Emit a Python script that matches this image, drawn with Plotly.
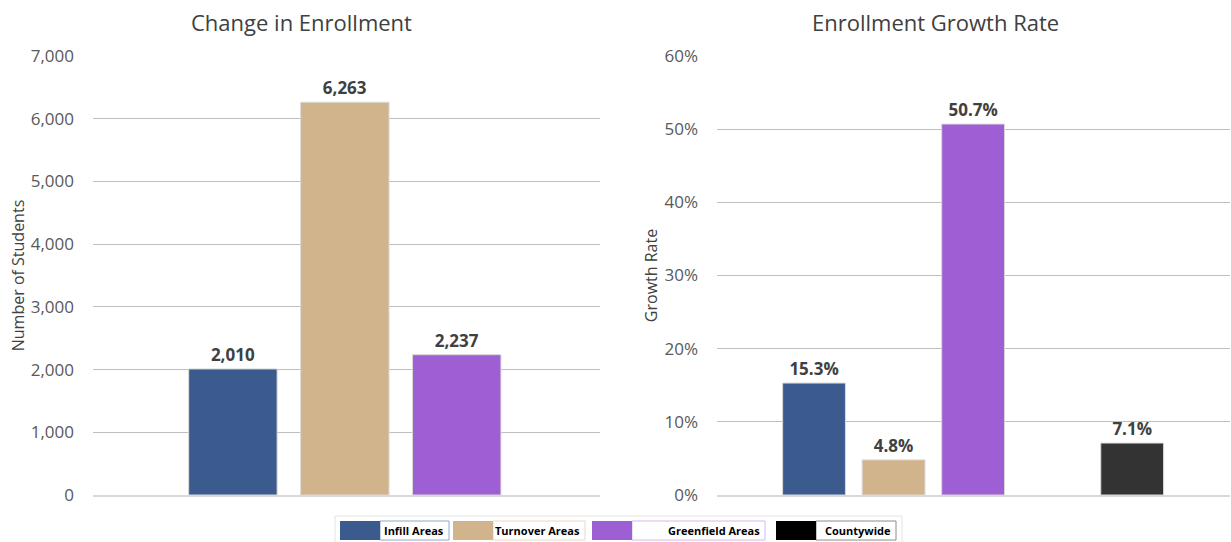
import plotly.graph_objects as go
from plotly.subplots import make_subplots

# ---- data ----
enroll_categories = ["Infill Areas", "Turnover Areas", "Greenfield Areas"]
enroll_change = [2010, 6263, 2237]
rate_categories = ["Infill Areas", "Turnover Areas", "Greenfield Areas", " ", "Countywide"]
rate_series = ["Infill Areas", "Turnover Areas", "Greenfield Areas", "Countywide"]
growth_rate = [0.153, 0.048, 0.507, 0.071]
legend_labels = ["Infill Areas", "Turnover Areas", "Greenfield Areas", "Countywide"]

left_ticks = [0, 1000, 2000, 3000, 4000, 5000, 6000, 7000]
right_ticks = [0, 0.1, 0.2, 0.3, 0.4, 0.5, 0.6]

# ---- styles ----
bar_colors = {"Infill Areas": "#3B5A8E", "Turnover Areas": "#D2B48C",
              "Greenfield Areas": "#9E5FD4", "Countywide": "#333333"}
legend_colors = {"Infill Areas": "#3B5A8E", "Turnover Areas": "#D2B48C",
                 "Greenfield Areas": "#9E5FD4", "Countywide": "#000000"}
legend_borders = {"Infill Areas": "#8FA6D0", "Turnover Areas": "#E8D9C3",
                  "Greenfield Areas": "#D5B8F0", "Countywide": "#8C8C8C"}
FONT = "Open Sans"
W, H = 1231, 542
ML, MR, MT, MB = 93, 1, 56, 47
PW, PH = W - ML - MR, H - MT - MB


def px(x):
    return (x - ML) / PW


def py(y):
    return (H - MB - y) / PH


fig = make_subplots(rows=1, cols=2)

fig.add_trace(go.Bar(
    x=enroll_categories, y=enroll_change,
    marker=dict(color=[bar_colors[c] for c in enroll_categories],
                line=dict(color="#D9D9D9", width=1)),
    text=[f"{v:,}" for v in enroll_change], textposition="outside",
    textfont=dict(family=FONT, size=17, color="#404040", weight="bold"),
    cliponaxis=False, showlegend=False, hoverinfo="skip"), row=1, col=1)

fig.add_trace(go.Bar(
    x=rate_series, y=growth_rate,
    marker=dict(color=[bar_colors[c] for c in rate_series],
                line=dict(color="#D9D9D9", width=1)),
    text=[f"{v*100:.1f}%" for v in growth_rate], textposition="outside",
    textfont=dict(family=FONT, size=17, color="#404040", weight="bold"),
    cliponaxis=False, showlegend=False, hoverinfo="skip"), row=1, col=2)

axis_common = dict(showline=True, linecolor="#D9D9D9", linewidth=2,
                   showticklabels=False, ticks="", showgrid=False,
                   type="category", fixedrange=True)
fig.update_xaxes(domain=[0, px(600)], categoryorder="array",
                 categoryarray=enroll_categories, range=[-1.25, 3.28],
                 **axis_common, row=1, col=1)
fig.update_xaxes(domain=[px(717), 1.0], categoryorder="array",
                 categoryarray=rate_categories, range=[-1.22, 5.23],
                 **axis_common, row=1, col=2)

yaxis_common = dict(showgrid=True, gridcolor="#BFBFBF", gridwidth=1,
                    zeroline=False, showline=False, ticks="",
                    tickfont=dict(family=FONT, size=17, color="#595959"),
                    ticklabelstandoff=18, fixedrange=True)
fig.update_yaxes(range=[0, 7000], tickvals=left_ticks,
                 ticktext=[f"{v:,}" for v in left_ticks],
                 title=dict(text="Number of Students", standoff=2,
                            font=dict(family=FONT, size=16, color="#404040")),
                 **yaxis_common, row=1, col=1)
fig.update_yaxes(range=[0, 0.6], tickvals=right_ticks,
                 ticktext=[f"{round(v*100)}%" for v in right_ticks],
                 title=dict(text="Growth Rate", standoff=2,
                            font=dict(family=FONT, size=16, color="#404040")),
                 **yaxis_common, row=1, col=2)

annotations = [
    dict(text="Change in Enrollment", x=px(301), y=py(22), xref="paper", yref="paper",
         showarrow=False, xanchor="center", yanchor="middle",
         font=dict(family=FONT, size=22, color="#404040")),
    dict(text="Enrollment Growth Rate", x=px(935), y=py(22), xref="paper", yref="paper",
         showarrow=False, xanchor="center", yanchor="middle",
         font=dict(family=FONT, size=22, color="#404040")),
]

# custom Excel-style legend (positions in pixels)
legend_items = [(340, 380, 449), (453, 493, 585), (592, 632, 765), (776, 816, 896)]
shapes = [dict(type="rect", xref="paper", yref="paper",
               x0=px(335), x1=px(902), y0=py(545), y1=py(516),
               line=dict(color="#E3E3E3", width=1), fillcolor="white", layer="below")]
ytop, ybot = 521, 540
for lab, (s0, s1, b1) in zip(legend_labels, legend_items):
    shapes.append(dict(type="rect", xref="paper", yref="paper",
                       x0=px(s1), x1=px(b1), y0=py(ybot), y1=py(ytop),
                       line=dict(color=legend_borders[lab], width=1), fillcolor="white"))
    shapes.append(dict(type="rect", xref="paper", yref="paper",
                       x0=px(s0), x1=px(s1), y0=py(ybot), y1=py(ytop),
                       line=dict(width=0), fillcolor=legend_colors[lab]))
    annotations.append(dict(text=f"<b>{lab}</b>", x=px(b1 - 3), y=py((ytop + ybot) / 2),
                            xref="paper", yref="paper", showarrow=False,
                            xanchor="right", yanchor="middle",
                            font=dict(family=FONT, size=11, color="#000000")))

fig.update_layout(width=W, height=H, margin=dict(l=ML, r=MR, t=MT, b=MB, autoexpand=False),
                  paper_bgcolor="white", plot_bgcolor="white",
                  bargap=0.21, showlegend=False,
                  annotations=annotations, shapes=shapes,
                  font=dict(family=FONT))

fig.write_html("out.html", config={"displayModeBar": False},
               post_script="document.body.style.margin='0';document.body.style.padding='0';"
                           "document.body.style.overflow='hidden';")
